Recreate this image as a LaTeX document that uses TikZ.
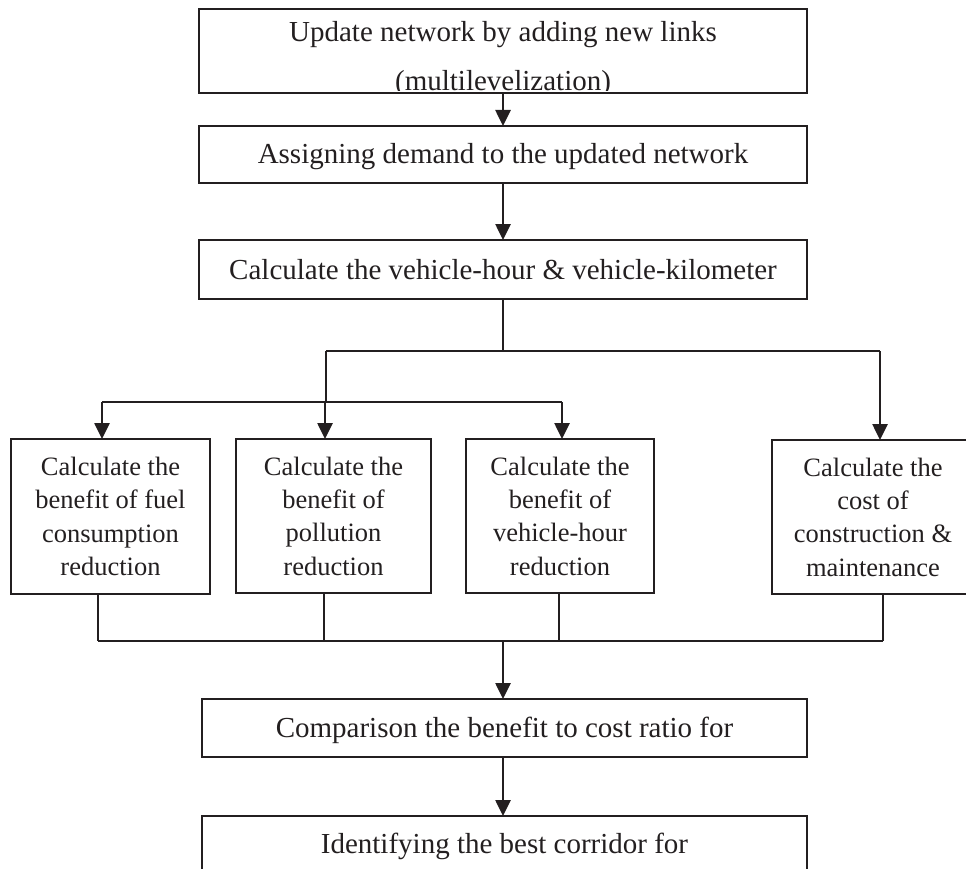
\documentclass[tikz,border=0pt]{standalone}
\usepackage{fontspec}
\setmainfont{Liberation Serif}
\usetikzlibrary{arrows.meta}
\definecolor{ink}{RGB}{35,31,32}
\begin{document}
\begin{tikzpicture}[x=1pt,y=-1pt,
  box/.style={draw=ink, line width=2.6pt, inner sep=0pt, outer sep=0pt, text=ink},
  wide/.style={box, minimum width=#1, text height=19pt, text depth=0pt, font=\fontsize{29}{48}\selectfont},
  tall/.style={box, minimum width=#1, minimum height=154pt, align=center, font=\fontsize{26.5}{33.3}\selectfont},
  bigtext/.style={font=\fontsize{29}{48}\selectfont, text=ink, inner sep=0pt},
  wire/.style={draw=ink, line width=1.2pt},
  flow/.style={draw=ink, line width=2.6pt, -{Triangle[length=16pt,width=15pt]}},
]
\useasboundingbox (0,0) rectangle (966,869);
\clip (0,0) rectangle (966,869);

% top boxes
\node[wide=608pt, minimum height=84pt] (b1) at (503,51) {};
\begin{scope}
  \clip (b1.north west) rectangle ([yshift=2.5pt]b1.south east);
  \node[bigtext, anchor=base] (t1a) at (503,42) {Update network by adding new links};
  \node[bigtext, anchor=base] (t1b) at (503,91) {(multilevelization)};
\end{scope}
\node[wide=608pt, minimum height=57pt] (b2) at (503,154.5) {Assigning demand to the updated network};
\node[wide=608pt, minimum height=59pt] (b3) at (503,269.5) {Calculate the vehicle-hour \& vehicle-kilometer};

% middle row
\node[tall=199pt, minimum height=155pt] (bA) at (110.5,516.5) {Calculate the\\benefit of fuel\\consumption\\reduction};
\node[tall=195pt] (bB) at (333.5,516) {Calculate the\\benefit of\\pollution\\reduction};
\node[tall=188pt] (bC) at (560,516) {Calculate the\\benefit of\\vehicle-hour\\reduction};
\node[tall=202pt] (bD) at (873,517) {Calculate the\\cost of\\construction \&\\maintenance};

% bottom boxes
\node[wide=605pt, minimum height=58pt] (bE) at (504.5,728) {Comparison the benefit to cost ratio for};
\node[box, minimum width=605pt, minimum height=84pt] (bF) at (504.5,858) {};
\node[bigtext, anchor=base] (tF) at (504.5,853) {Identifying the best corridor for};

% junction points
\coordinate (hL) at (326,351);
\coordinate (hR) at (880,351);
\coordinate (vL) at (326,402);
\coordinate (gL) at (102,402);
\coordinate (gM) at (325,402);
\coordinate (gR) at (562,402);
\coordinate (kA) at (98,641);
\coordinate (kB) at (324,641);
\coordinate (kC) at (559,641);
\coordinate (kD) at (883,641);
\coordinate (kM) at (503,641);

% connectors
\draw[flow] (b1.south) -- (b2.north);
\draw[flow] (b2.south) -- (b3.north);
\draw[wire] (b3.south) -- (b3.south |- hL);
\draw[wire] (hL) -- (hR);
\draw[wire] (hL) -- (vL);
\draw[flow] (hR) -- (hR |- bD.north);
\draw[wire] (gL) -- (gR);
\draw[flow] (gL) -- (gL |- bA.north);
\draw[flow] (gM) -- (gM |- bB.north);
\draw[flow] (gR) -- (gR |- bC.north);

\draw[wire] (kA |- bA.south) -- (kA);
\draw[wire] (kB |- bB.south) -- (kB);
\draw[wire] (kC |- bC.south) -- (kC);
\draw[wire] (kD |- bD.south) -- (kD);
\draw[wire] (kA) -- (kD);
\draw[flow] (kM) -- (kM |- bE.north);
\draw[flow] (kM |- bE.south) -- (kM |- bF.north);
\end{tikzpicture}
\end{document}
